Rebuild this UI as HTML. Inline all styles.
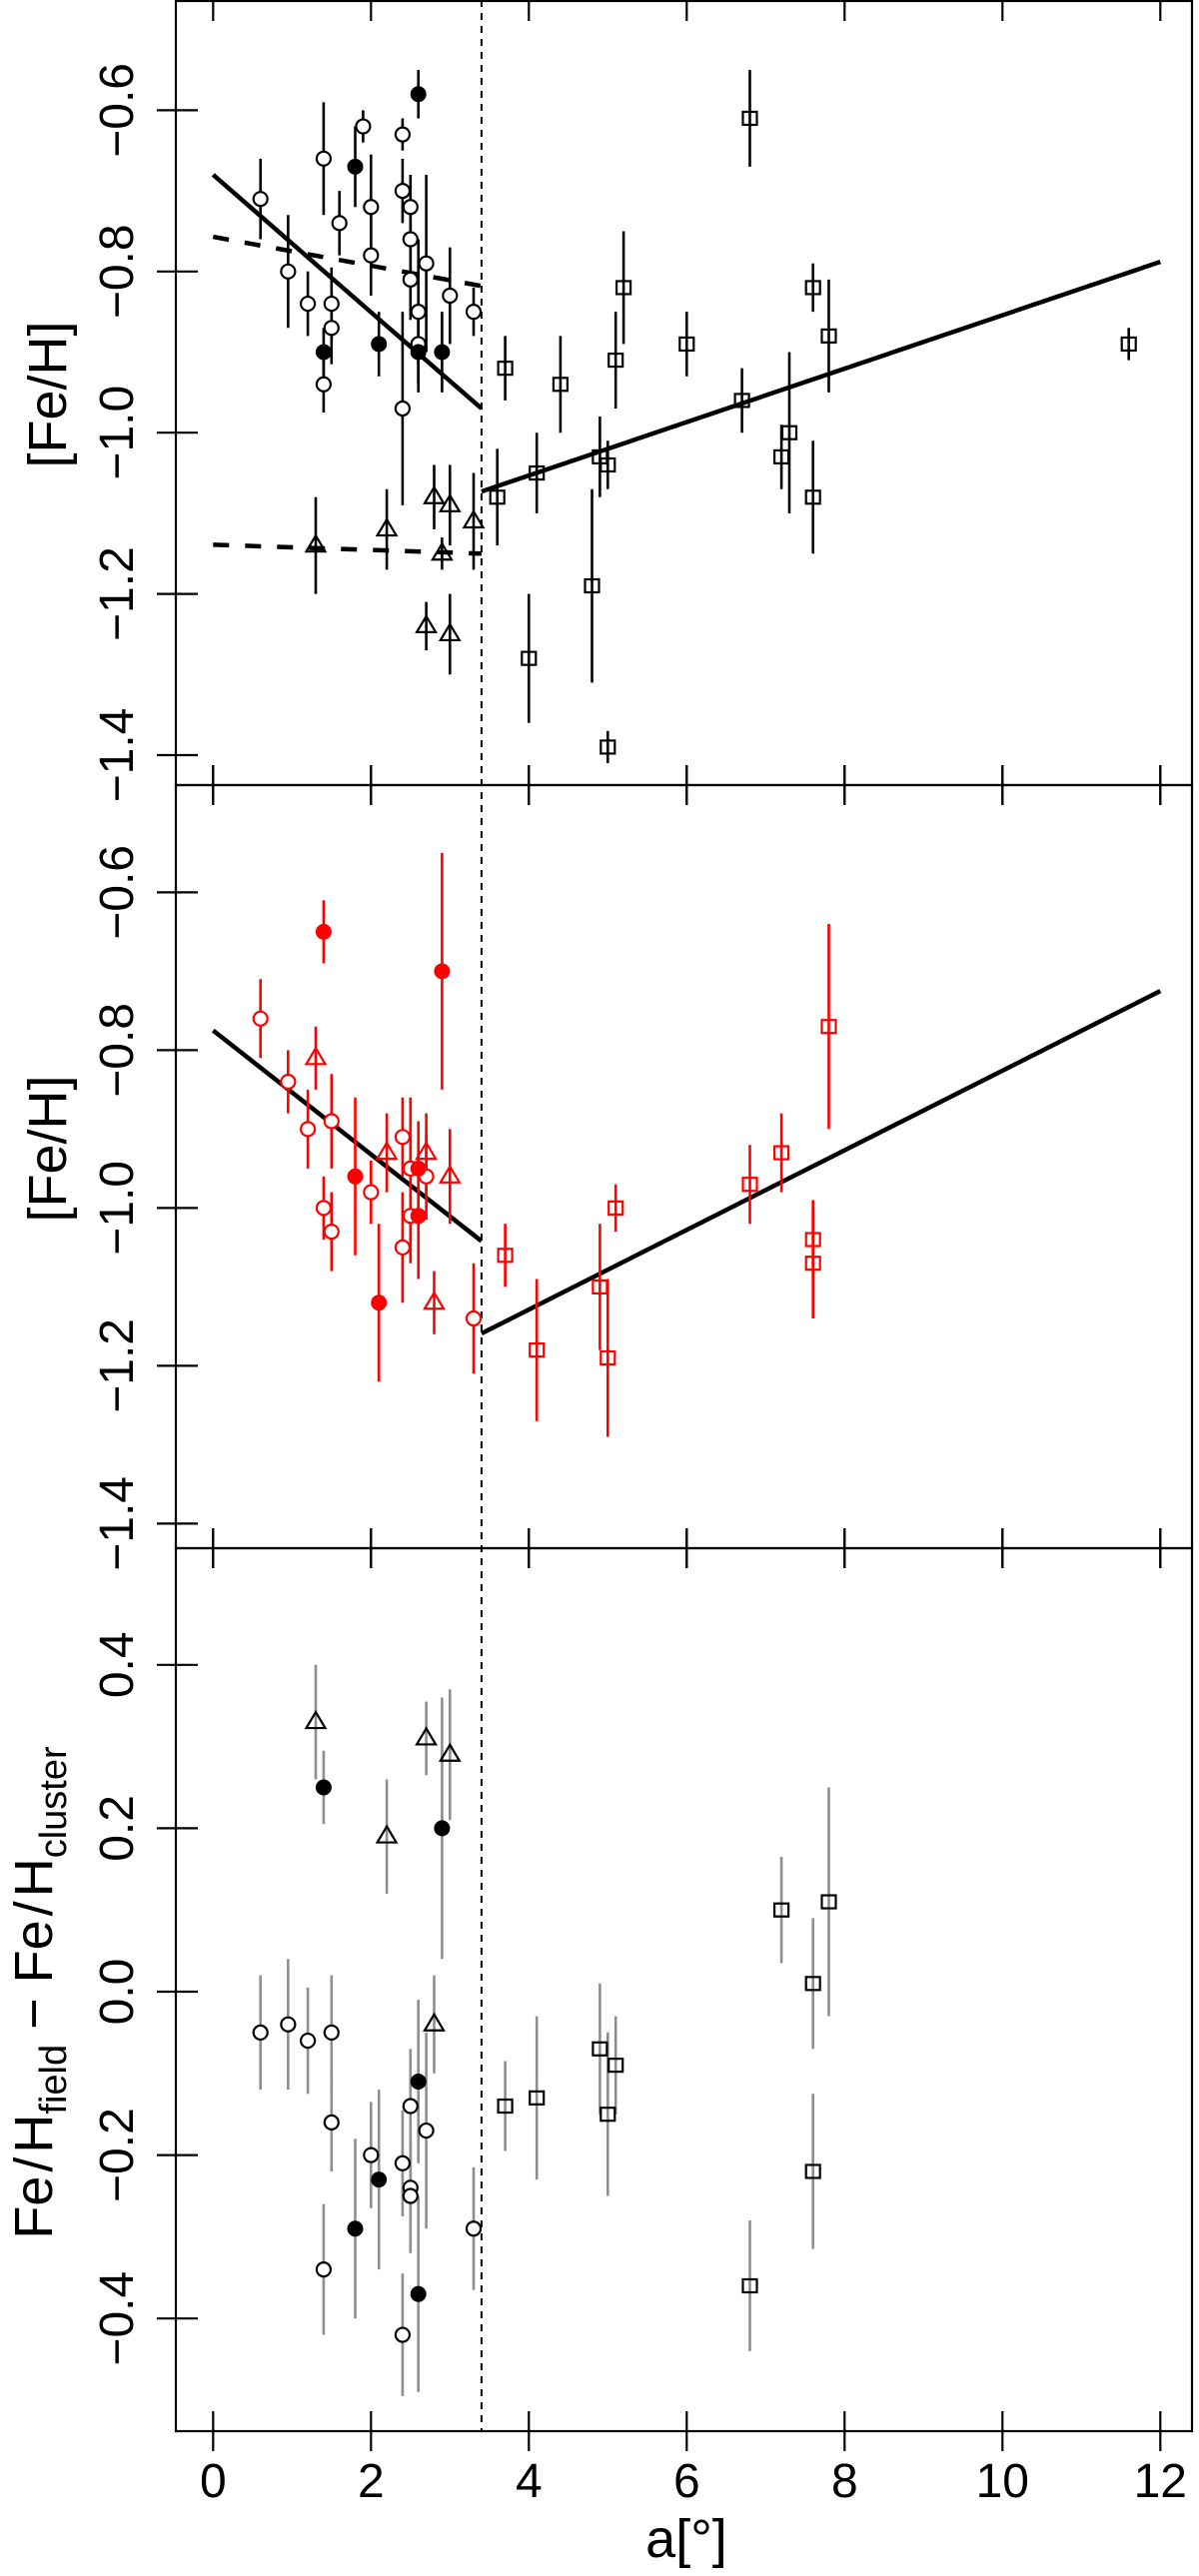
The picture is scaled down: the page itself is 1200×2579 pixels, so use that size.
<!DOCTYPE html>
<html><head><meta charset="utf-8"><style>
html,body{margin:0;padding:0;background:#fff}
svg{display:block}
text{font-family:"Liberation Sans","DejaVu Sans",sans-serif;fill:#000}
</style></head><body>
<svg id="chart" xmlns="http://www.w3.org/2000/svg" width="1200" height="2579" viewBox="0 0 1200 2579">
<g id="frame"></g>
<g id="marks"></g>
<text x="687" y="2560" font-size="54" text-anchor="middle">a[°]</text>
<text transform="translate(66,395) rotate(-90)" font-size="54" text-anchor="middle">[Fe/H]</text>
<text transform="translate(66,1150) rotate(-90)" font-size="54" text-anchor="middle">[Fe/H]</text>
<text transform="translate(52,1995) rotate(-90)" font-size="54" text-anchor="middle">Fe<tspan dx="4">/</tspan><tspan dx="4">H</tspan><tspan font-size="38" dy="14">field</tspan><tspan dy="-14"> − Fe</tspan><tspan dx="4">/</tspan><tspan dx="4">H</tspan><tspan font-size="38" dy="14">cluster</tspan></text>
</svg>
<script>
// ---- data: panel 1 (all stars) ----
const p1CircX=[0.6,0.95,1.2,1.5,1.5,1.4,1.4,1.6,1.9,2.0,2.0,2.4,2.4,2.4,2.5,2.5,2.5,2.6,2.6,2.7,3.0,3.3];
const p1CircY=[-0.71,-0.80,-0.84,-0.84,-0.87,-0.66,-0.94,-0.74,-0.62,-0.72,-0.78,-0.63,-0.70,-0.97,-0.72,-0.76,-0.81,-0.85,-0.89,-0.79,-0.83,-0.85];
const p1CircE=[0.05,0.07,0.04,0.045,0.045,0.07,0.035,0.04,0.02,0.065,0.05,0.02,0.04,0.12,0.04,0.05,0.05,0.09,0.05,0.11,0.06,0.03];
const p1FillX=[2.6,1.8,1.4,2.1,2.6,2.9];
const p1FillY=[-0.58,-0.67,-0.90,-0.89,-0.90,-0.90];
const p1FillE=[0.03,0.05,0.03,0.04,0.05,0.05];
const p1TriX=[1.3,2.2,2.8,3.0,3.3,2.9,2.7,3.0];
const p1TriY=[-1.14,-1.12,-1.08,-1.09,-1.11,-1.15,-1.24,-1.25];
const p1TriE=[0.06,0.05,0.04,0.05,0.06,0.02,0.03,0.05];
const p1SqX=[3.6,3.7,4.0,4.1,4.4,4.8,4.9,5.0,5.0,5.1,5.2,6.0,6.7,6.8,7.2,7.3,7.6,7.6,7.8,11.6];
const p1SqY=[-1.08,-0.92,-1.28,-1.05,-0.94,-1.19,-1.03,-1.04,-1.39,-0.91,-0.82,-0.89,-0.96,-0.61,-1.03,-1.00,-0.82,-1.08,-0.88,-0.89];
const p1SqE=[0.06,0.04,0.08,0.05,0.06,0.12,0.05,0.03,0.02,0.06,0.07,0.04,0.04,0.06,0.04,0.10,0.03,0.07,0.07,0.02];
const p1LinesX0=[0,3.4,0,0]; const p1LinesX1=[3.4,12,3.4,3.4];
const p1LinesY0=[-0.68,-1.073,-0.757,-1.139]; const p1LinesY1=[-0.97,-0.788,-0.818,-1.15];
const p1LinesDash=[false,false,true,true];
// ---- data: panel 2 (red) ----
const p2CircX=[0.6,0.95,1.2,1.5,1.4,1.5,2.0,2.4,2.5,2.5,2.7,2.4,3.3];
const p2CircY=[-0.76,-0.84,-0.90,-0.89,-1.00,-1.03,-0.98,-0.91,-0.95,-1.01,-0.96,-1.05,-1.14];
const p2CircE=[0.05,0.04,0.05,0.06,0.04,0.05,0.04,0.05,0.09,0.06,0.055,0.07,0.07];
const p2FillX=[1.4,2.9,1.8,2.1,2.6,2.6];
const p2FillY=[-0.65,-0.70,-0.96,-1.12,-0.95,-1.01];
const p2FillE=[0.04,0.15,0.10,0.10,0.06,0.08];
const p2TriX=[1.3,2.2,2.7,3.0,2.8];
const p2TriY=[-0.81,-0.93,-0.93,-0.96,-1.12];
const p2TriE=[0.04,0.05,0.05,0.06,0.04];
const p2SqX=[3.7,4.1,4.9,5.0,5.1,6.8,7.2,7.6,7.6,7.8];
const p2SqY=[-1.06,-1.18,-1.10,-1.19,-1.00,-0.97,-0.93,-1.04,-1.07,-0.77];
const p2SqE=[0.04,0.09,0.08,0.10,0.03,0.05,0.05,0.05,0.07,0.13];
const p2LinesX0=[0,3.4]; const p2LinesX1=[3.4,12];
const p2LinesY0=[-0.775,-1.159]; const p2LinesY1=[-1.042,-0.725];
const p2LinesDash=[false,false];
// ---- data: panel 3 (differences) ----
const p3CircX=[0.6,0.95,1.2,1.5,1.5,1.4,2.0,2.4,2.4,2.5,2.5,2.5,2.7,3.3];
const p3CircY=[-0.05,-0.04,-0.06,-0.05,-0.16,-0.34,-0.20,-0.21,-0.42,-0.14,-0.24,-0.25,-0.17,-0.29];
const p3CircE=[0.07,0.08,0.065,0.07,0.06,0.08,0.065,0.065,0.075,0.07,0.07,0.07,0.12,0.075];
const p3FillX=[1.4,2.9,2.6,2.1,1.8,2.6];
const p3FillY=[0.25,0.20,-0.11,-0.23,-0.29,-0.37];
const p3FillE=[0.045,0.16,0.10,0.11,0.11,0.12];
const p3TriX=[1.3,2.7,3.0,2.2,2.8];
const p3TriY=[0.33,0.31,0.29,0.19,-0.04];
const p3TriE=[0.07,0.045,0.08,0.07,0.06];
const p3SqX=[3.7,4.1,4.9,5.1,5.0,7.2,7.8,7.6,7.6,6.8];
const p3SqY=[-0.14,-0.13,-0.07,-0.09,-0.15,0.10,0.11,0.01,-0.22,-0.36];
const p3SqE=[0.055,0.10,0.08,0.06,0.10,0.065,0.14,0.08,0.095,0.08];
const p3LinesX0=[]; const p3LinesX1=[]; const p3LinesY0=[]; const p3LinesY1=[]; const p3LinesDash=[];
const xTicks=[0,2,4,6,8,10,12];
const yTicksP1=[-0.6,-0.8,-1.0,-1.2,-1.4];
const yTicksP2=[-0.6,-0.8,-1.0,-1.2,-1.4];
const yTicksP3=[0.4,0.2,0.0,-0.2,-0.4];
const xBreak=3.4;

const NS="http://www.w3.org/2000/svg";
const L=176,R=1193;
const xs=v=>213.3+v*79;
const panels=[
 {top:1,bot:786,ys:v=>110.4+(-0.6-v)*807,ticks:yTicksP1,col:"#000",ecol:"#000",
  c:[p1CircX,p1CircY,p1CircE],f:[p1FillX,p1FillY,p1FillE],t:[p1TriX,p1TriY,p1TriE],s:[p1SqX,p1SqY,p1SqE],
  l:[p1LinesX0,p1LinesX1,p1LinesY0,p1LinesY1,p1LinesDash]},
 {top:786,bot:1550,ys:v=>893.4+(-0.6-v)*790,ticks:yTicksP2,col:"#ff0000",ecol:"#ff0000",
  c:[p2CircX,p2CircY,p2CircE],f:[p2FillX,p2FillY,p2FillE],t:[p2TriX,p2TriY,p2TriE],s:[p2SqX,p2SqY,p2SqE],
  l:[p2LinesX0,p2LinesX1,p2LinesY0,p2LinesY1,p2LinesDash]},
 {top:1550,bot:2434,ys:v=>1994-v*818,ticks:yTicksP3,col:"#000",ecol:"#8a9090",
  c:[p3CircX,p3CircY,p3CircE],f:[p3FillX,p3FillY,p3FillE],t:[p3TriX,p3TriY,p3TriE],s:[p3SqX,p3SqY,p3SqE],
  l:[p3LinesX0,p3LinesX1,p3LinesY0,p3LinesY1,p3LinesDash]}
];
const frame=document.getElementById('frame'),marks=document.getElementById('marks');
function mk(tag,attrs,parent){const e=document.createElementNS(NS,tag);for(const k in attrs)e.setAttribute(k,attrs[k]);parent.appendChild(e);return e;}
function fmt(v){return (v<0?"−":"")+Math.abs(v).toFixed(1);}

panels.forEach((p,pi)=>{
  const box=mk('rect',{x:L,y:p.top,width:R-L,height:p.bot-p.top,fill:"none",stroke:"#000","stroke-width":2.2},frame);
  
  
  p.ticks.forEach(v=>{
    const y=p.ys(v);
    const t=mk('line',{x1:L-19,x2:L+22,y1:y,y2:y,stroke:"#000","stroke-width":2.2},frame);
    
    
    const tx=mk('text',{transform:`translate(133,${y}) rotate(-90)`,"font-size":48,"text-anchor":"middle"},frame);
    
    
    tx.textContent=fmt(v);
  });
  xTicks.forEach(v=>{
    const x=xs(v);
    [p.top,p.bot].forEach(yy=>{
      const t=mk('line',{x1:x,x2:x,y1:Math.max(0,yy-20),y2:yy+20,stroke:"#000","stroke-width":2.2},frame);
      
      
    });
  });
  const g=mk('g',{},marks);
  
  
  // regression lines
  const [lx0,lx1,ly0,ly1,ld]=p.l;
  lx0.forEach((_,i)=>{
    const ln=mk('line',{x1:xs(lx0[i]),y1:p.ys(ly0[i]),x2:xs(lx1[i]),y2:p.ys(ly1[i]),stroke:"#000","stroke-width":4.5},g);
    if(ld[i])ln.setAttribute('stroke-dasharray','16 16');
    
    
  });
  function errs(arr){const [X,Y,E]=arr;X.forEach((_,i)=>{
    const e=mk('line',{x1:xs(X[i]),x2:xs(X[i]),y1:p.ys(Y[i]+E[i]),y2:p.ys(Y[i]-E[i]),stroke:p.ecol,"stroke-width":2.6},g);
    
    
  });}
  [p.c,p.f,p.t,p.s].forEach(errs);
  p.c[0].forEach((_,i)=>{
    const m=mk('circle',{cx:xs(p.c[0][i]),cy:p.ys(p.c[1][i]),r:7,fill:"#fff",stroke:p.col,"stroke-width":2.2},g);
    
    
  });
  p.f[0].forEach((_,i)=>{
    const m=mk('circle',{cx:xs(p.f[0][i]),cy:p.ys(p.f[1][i]),r:7.5,fill:p.col,stroke:p.col,"stroke-width":1},g);
    
    
  });
  p.t[0].forEach((_,i)=>{
    const x=xs(p.t[0][i]),y=p.ys(p.t[1][i]);
    const m=mk('polygon',{points:`${x},${y-10} ${x-9.5},${y+6} ${x+9.5},${y+6}`,fill:"none",stroke:p.col,"stroke-width":2.2},g);
    
    
  });
  p.s[0].forEach((_,i)=>{
    const x=xs(p.s[0][i]),y=p.ys(p.s[1][i]);
    const m=mk('rect',{x:x-7,y:y-6.5,width:14,height:13,fill:"none",stroke:p.col,"stroke-width":2.2},g);
    
    
  });
});
// vertical break line
const vb=mk('line',{x1:xs(xBreak),x2:xs(xBreak),y1:0,y2:2434,stroke:"#000","stroke-width":2,"stroke-dasharray":"7 6"},frame);


xTicks.forEach(v=>{
  const t=mk('text',{x:xs(v),y:2500,"font-size":48,"text-anchor":"middle"},frame);
  
  
  t.textContent=v;
});
</script>
</body></html>
